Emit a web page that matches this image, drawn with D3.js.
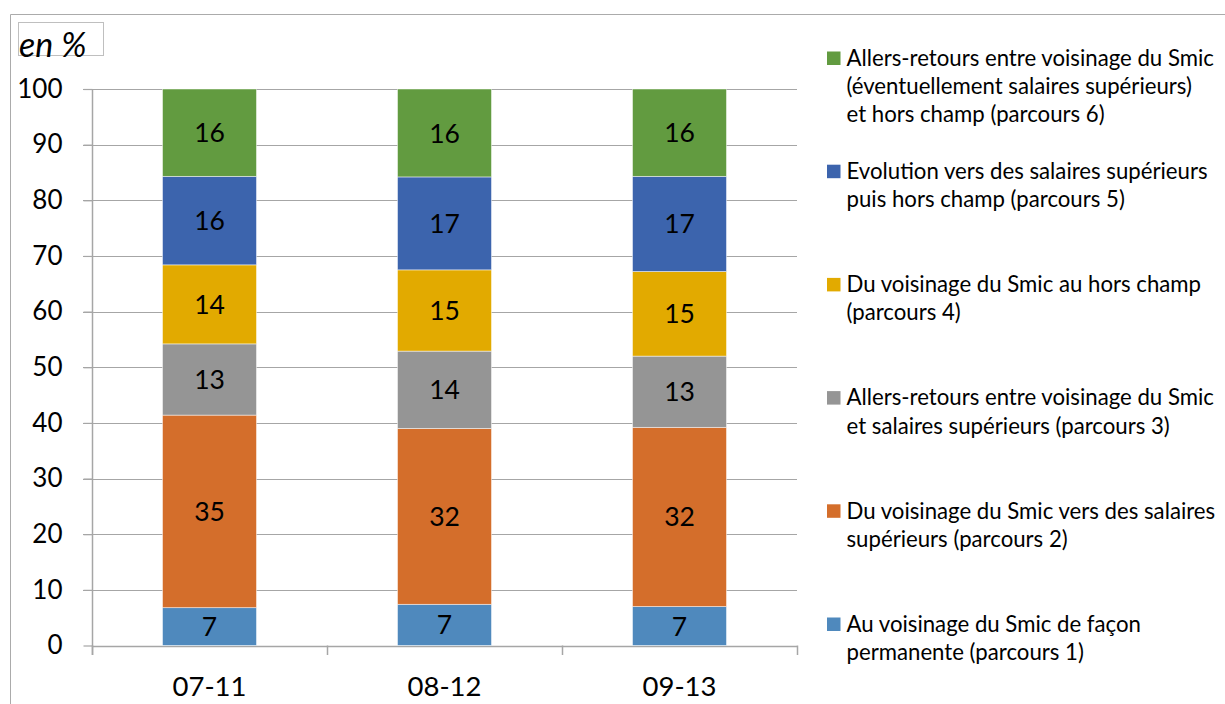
<!DOCTYPE html>
<html>
<head>
<meta charset="utf-8">
<script src="https://cdn.jsdelivr.net/npm/d3@7"></script>
<style>
  html, body { margin: 0; padding: 0; background: #fff; }
  svg { display: block; font-family: Lato, "Open Sans", sans-serif; }
</style>
</head>
<body>
<svg id="chart" width="1225" height="704"></svg>
<script>
// ---- data ----
const categories = ["07-11", "08-12", "09-13"];
const parcours1 = [6.8, 7.4, 7.0];
const parcours2 = [34.6, 31.6, 32.2];
const parcours3 = [12.8, 13.9, 12.8];
const parcours4 = [14.2, 14.6, 15.2];
const parcours5 = [15.9, 16.7, 17.1];
const parcours6 = [15.7, 15.8, 15.7];
const seriesLabels = [
  ["Au voisinage du Smic de façon", "permanente (parcours 1)"],
  ["Du voisinage du Smic vers des salaires", "supérieurs (parcours 2)"],
  ["Allers-retours entre voisinage du Smic", "et salaires supérieurs (parcours 3)"],
  ["Du voisinage du Smic au hors champ", "(parcours 4)"],
  ["Evolution vers des salaires supérieurs", "puis hors champ (parcours 5)"],
  ["Allers-retours entre voisinage du Smic", "(éventuellement salaires supérieurs)", "et hors champ (parcours 6)"]
];
const yTicks = [0, 10, 20, 30, 40, 50, 60, 70, 80, 90, 100];
const unitLabel = "en %";

// ---- styles ----
const colors = ["#4F89BD", "#D46E2B", "#959595", "#E2AA00", "#3C64AD", "#629B40"];
const seriesValues = [parcours1, parcours2, parcours3, parcours4, parcours5, parcours6];
const keys = seriesValues.map((_, i) => "p" + (i + 1));
const rows = categories.map((c, j) => {
  const r = { cat: c };
  keys.forEach((k, i) => r[k] = seriesValues[i][j]);
  return r;
});

const svg = d3.select("#chart");
const W = 1225, H = 704;

// outer frame
svg.append("line").attr("x1", 10.5).attr("x2", 10.5).attr("y1", 14.5).attr("y2", H)
  .attr("stroke", "#ABABAB").attr("stroke-width", 1);
svg.append("line").attr("x1", 10.5).attr("x2", W).attr("y1", 14.5).attr("y2", 14.5)
  .attr("stroke", "#ABABAB").attr("stroke-width", 1);

const x = d3.scaleBand().domain(categories).range([92, 797]).paddingInner(0.6).paddingOuter(0.3);
const y = d3.scaleLinear().domain([0, 100]).range([645.5, 89]);

// gridlines
svg.append("g").selectAll("line").data(yTicks.filter(t => t > 0)).join("line")
  .attr("x1", 83).attr("x2", 797)
  .attr("y1", d => Math.round(y(d)) + 0.5).attr("y2", d => Math.round(y(d)) + 0.5)
  .attr("stroke", "#A6A6A6").attr("stroke-width", 1.2);

// y axis
const yAxis = svg.append("g").attr("transform", "translate(92.5,0)")
  .call(d3.axisLeft(y).tickValues(yTicks).tickSize(9).tickPadding(21).tickFormat(d3.format("d")));
yAxis.select(".domain").attr("stroke", "#A6A6A6").attr("stroke-width", 1.5).attr("d", `M0,${y(100)}V655`);
yAxis.selectAll(".tick line").attr("stroke", "#A6A6A6").attr("stroke-width", 1.2);
yAxis.selectAll(".tick text").attr("font-size", 26).attr("fill", "#000").attr("font-family", "Lato");

// x axis
const xAxis = svg.append("g").attr("transform", `translate(0,${Math.round(y(0)) + 0.5})`)
  .call(d3.axisBottom(x).tickSize(0));
xAxis.select(".domain").remove();
xAxis.selectAll(".tick text").attr("font-size", 27.5).attr("fill", "#000").attr("font-family", "Lato")
  .attr("y", 49).attr("dy", 0);
svg.append("line").attr("x1", 92).attr("x2", 797)
  .attr("y1", Math.round(y(0)) + 0.5).attr("y2", Math.round(y(0)) + 0.5)
  .attr("stroke", "#A6A6A6").attr("stroke-width", 1.5);
// category separator ticks
const sepX = [0, 1, 2, 3].map(i => 92 + i * (797 - 92) / 3);
svg.append("g").selectAll("line").data(sepX).join("line")
  .attr("x1", d => Math.round(d) + 0.5).attr("x2", d => Math.round(d) + 0.5)
  .attr("y1", y(0)).attr("y2", 655)
  .attr("stroke", "#A6A6A6").attr("stroke-width", 1.5);

// stacked bars
const stacked = d3.stack().keys(keys)(rows);
const groups = svg.append("g").selectAll("g").data(stacked).join("g")
  .attr("fill", (d, i) => colors[i]);
groups.selectAll("rect").data(d => d).join("rect")
  .attr("x", d => x(d.data.cat))
  .attr("width", x.bandwidth())
  .attr("y", d => y(d[1]))
  .attr("height", d => y(d[0]) - y(d[1]))
  .attr("stroke", "rgba(255,255,255,0.6)").attr("stroke-width", 0.8);

// data labels
groups.selectAll("text").data(d => d).join("text")
  .attr("x", d => x(d.data.cat) + x.bandwidth() / 2)
  .attr("y", d => (y(d[0]) + y(d[1])) / 2)
  .attr("dy", "0.36em")
  .attr("text-anchor", "middle")
  .attr("font-size", 26.5).attr("fill", "#000")
  .text(d => Math.round(d[1] - d[0]));

// unit label
svg.append("rect").attr("x", 18.5).attr("y", 22.5).attr("width", 85).attr("height", 33)
  .attr("fill", "none").attr("stroke", "#BFBFBF").attr("stroke-width", 1);
svg.append("text").attr("x", 19).attr("y", 57).attr("font-size", 34)
  .attr("font-style", "italic").attr("fill", "#000").text(unitLabel);

// legend (top = series 6)
const legendOrder = [5, 4, 3, 2, 1, 0];
const legend = svg.append("g");
legendOrder.forEach((si, k) => {
  const cy = 58 + k * 113.2;
  const g = legend.append("g");
  g.append("rect").attr("x", 827).attr("y", cy - 6.5).attr("width", 13.5).attr("height", 13.5)
    .attr("fill", colors[si]);
  seriesLabels[si].forEach((line, li) => {
    g.append("text").attr("x", 846.5).attr("y", cy + li * 28.3).attr("dy", "0.35em")
      .attr("font-size", 22.2).attr("fill", "#000").text(line);
  });
});
</script>
</body>
</html>
